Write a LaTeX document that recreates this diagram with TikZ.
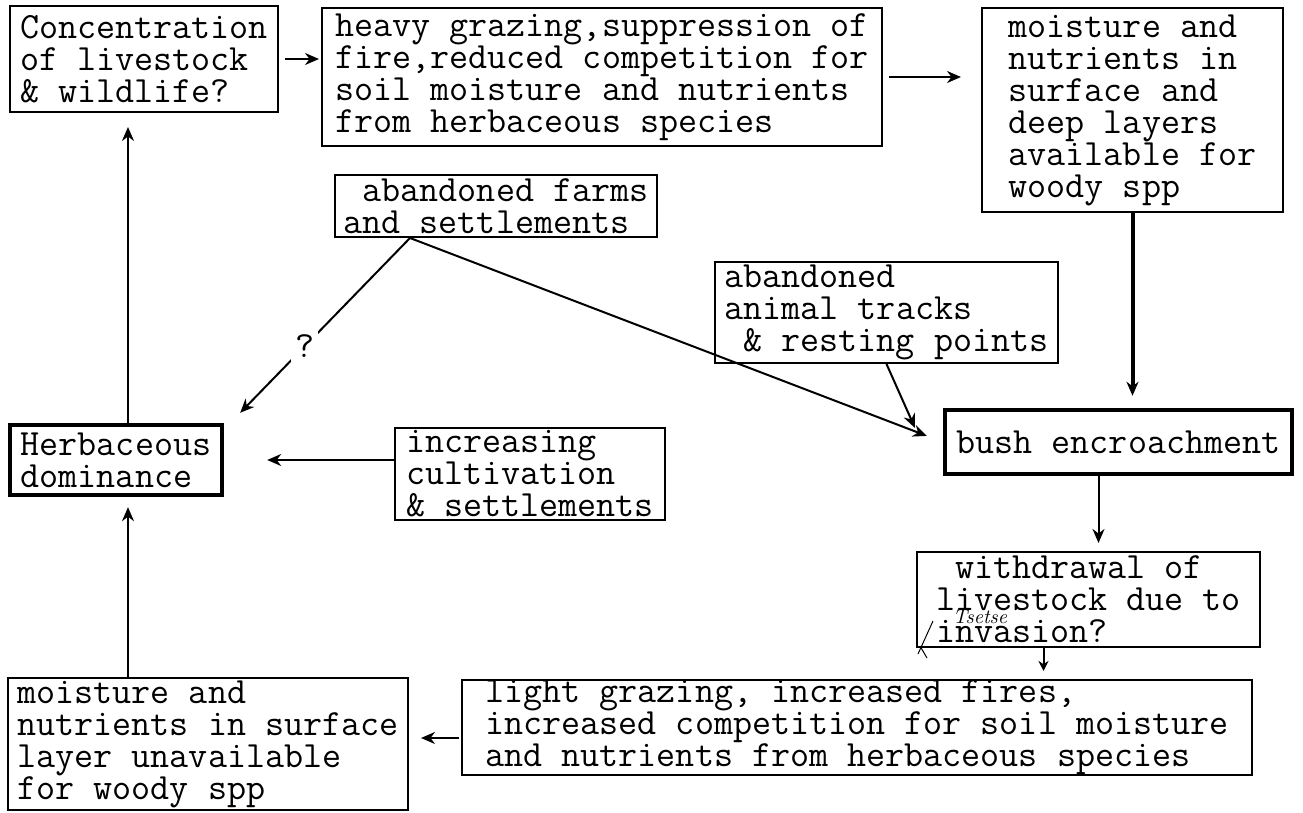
\documentclass[tikz,border=0pt]{standalone}
\usepackage{fontspec}
\usetikzlibrary{arrows.meta,calc}

\tikzset{
  box/.style={draw, line width=1pt, align=left, inner sep=0pt,
    font={\ttfamily\fontsize{18.5pt}{16pt}\selectfont}},
  heavybox/.style={box, line width=2.2pt},
  flow/.style={line width=1pt, -{Stealth[length=7pt,width=6pt]}},
}

\begin{document}
\begin{tikzpicture}[x=0.5pt,y=-0.5pt]
  \useasboundingbox[fill=white] (0,0) rectangle (1303,813);

  % top row
  \node[box, minimum width=134pt, minimum height=53pt] (conc) at (144,59)
    {Concentration\\of livestock\\\& wildlife?};
  \node[box, minimum width=280pt, minimum height=69pt] (heavy) at (602,77)
    {heavy grazing,suppression of\\fire,reduced competition for\\soil moisture and nutrients\\from herbaceous species};
  \node[box, minimum width=150.5pt, minimum height=102pt] (moisttop) at (1132.5,110)
    {moisture and\\nutrients in\\surface and\\deep layers\\available for\\woody spp};

  % middle
  \node[box, minimum width=161pt, minimum height=31pt] (farms) at (496,206)
    {\ abandoned farms\\and settlements};
  \node[box, minimum width=171.5pt, minimum height=50.5pt] (tracks) at (886.5,312.5)
    {abandoned\\animal tracks\\\ \& resting points};
  \node[heavybox, minimum width=173.5pt, minimum height=32pt] (bush) at (1118.5,442)
    {bush encroachment};
  \node[heavybox, minimum width=106pt, minimum height=35pt] (herb) at (116,460)
    {Herbaceous\\dominance};
  \node[box, minimum width=135pt, minimum height=46pt] (cultiv) at (530,474)
    {increasing\\cultivation\\\& settlements};
  \node[box, minimum width=171.5pt, minimum height=47.5pt] (withdraw) at (1088.5,599.5)
    {\ withdrawal of\\livestock due to\\invasion?};

  % bottom row
  \node[box, minimum width=395pt, minimum height=47.5pt] (light) at (857,727.5)
    {light grazing, increased fires,\\increased competition for soil moisture\\and nutrients from herbaceous species};
  \node[box, minimum width=200pt, minimum height=66pt] (moistbot) at (208,744)
    {moisture and\\nutrients in surface\\layer unavailable\\for woody spp};

  % handwritten note
  \node[font=\itshape\fontsize{10pt}{10pt}\selectfont, inner sep=0pt] (tsetse) at (980,617) {Tsetse};
  \draw[line width=0.5pt] (933,621) -- (918,654);
  \draw[line width=0.5pt] (920,646) -- (927,658);

  \coordinate (leftline) at (128,0);
  \coordinate (fork) at ([xshift=-43pt]farms.south);

  % connectors
  \draw[flow, shorten <=3pt, shorten >=1pt] (conc.east) -- (conc.east -| heavy.west);
  \draw[flow, shorten <=3pt, shorten >=10pt] (heavy.east) -- (heavy.east -| moisttop.west);
  \draw[flow, line width=2pt, shorten >=6pt] (moisttop.south) -- (moisttop.south |- bush.north);
  \draw[flow, shorten >=4pt] ([xshift=-10pt]bush.south) -- ([xshift=-10pt]bush.south |- withdraw.north);
  \draw[flow, -{Stealth[length=5pt,width=5pt]}, shorten >=4pt] ([xshift=-22.5pt]withdraw.south) -- ([xshift=-22.5pt]withdraw.south |- light.north);
  \draw[flow, shorten <=1pt, shorten >=6pt] (light.west |- 0,738) -- (moistbot.east |- 0,738);
  \draw[flow, shorten >=5pt] (moistbot.north -| leftline) -- (herb.south -| leftline);
  \draw[flow, shorten >=7pt] (herb.north -| leftline) -- (conc.south -| leftline);
  \draw[flow, shorten >=21.5pt] (cultiv.west |- herb.east) -- (herb.east);
  \draw[flow] (fork) -- node[pos=0.62, fill=white, inner sep=2pt,
    font={\ttfamily\fontsize{18.5pt}{16pt}\selectfont}] (qmark) {?}
    ([shift={(16,-10)}]herb.north east);
  \draw[flow, shorten >=8.5pt] (fork) -- (bush.west);
  \draw[flow, shorten >=1pt] (tracks.south) -- ([shift={(-27,22)}]bush.north west);
\end{tikzpicture}
\end{document}
